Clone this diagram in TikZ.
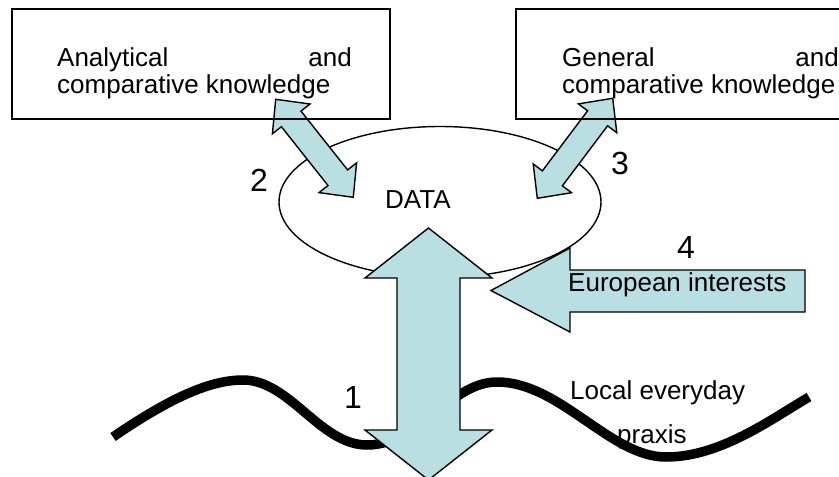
\documentclass[tikz,border=0pt]{standalone}
\usepackage{fontspec}
\setmainfont{Liberation Sans}
\definecolor{arrowfill}{RGB}{185,223,227}
\tikzset{
  lbl/.style={inner sep=0pt, anchor=base west, font=\fontsize{26}{30}\selectfont},
  lblr/.style={inner sep=0pt, anchor=base east, font=\fontsize{26}{30}\selectfont},
  num/.style={inner sep=0pt, anchor=base west, font=\fontsize{32}{36}\selectfont},
  blockarrow/.style={fill=arrowfill, draw=black, line width=1.4pt, line join=miter},
  knowbox/.style={draw=black, line width=1.8pt},
  wave/.style={draw=black, line width=9.5pt, line cap=butt}
}
\begin{document}
\begin{tikzpicture}[x=1pt,y=-1pt]
\useasboundingbox (0,0) rectangle (839,477);
\clip (0,0) rectangle (839,477);
\fill[white] (0,0) rectangle (839,477);

% arrow 4: European interests pressing on the data
\draw[blockarrow] (491,290.5) -- (570,248) -- (570,270) -- (805,270) -- (805,312)
  -- (570,312) -- (570,332) -- cycle;

% data ellipse
\draw[line width=1.4pt] (440,202) ellipse [x radius=161, y radius=75.5];
\node[lbl] (data) at (385,208) {DATA};

% arrow 2: analytical knowledge <-> data
\draw[blockarrow] (275.7,99.3) -- (310,104) -- (301,111.1) -- (347.6,169.9)
  -- (356.6,162.8) -- (353.3,197.3) -- (319,192.6) -- (328,185.5)
  -- (281.4,126.7) -- (272.4,133.8) -- cycle;
% arrow 3: general knowledge <-> data
\draw[blockarrow] (612.7,98.3) -- (616.8,132.7) -- (607.6,125.8) -- (562.4,185.8)
  -- (571.6,192.7) -- (537.3,198.3) -- (533.2,163.9) -- (542.4,170.8)
  -- (587.6,110.8) -- (578.4,103.9) -- cycle;

% knowledge boxes
\draw[knowbox] (12,9) rectangle (390,119);
\node[lbl] (ana1) at (57,66) {Analytical};
\node[lblr] (ana2) at (352,66) {and};
\node[lbl] (ana3) at (57,93.5) {comparative knowledge};

\draw[knowbox] (516,9) rectangle (900,119);
\node[lbl] (gen1) at (562,66) {General};
\node[lblr] (gen2) at (839,66) {and};
\node[lbl] (gen3) at (562,93.5) {comparative knowledge};

% local praxis label and the wavy line over it
\node[lbl] (local1) at (570,399) {Local everyday};
\node[lbl] (local2) at (617,443) {praxis};
\draw[wave] (113,437) .. controls (170,398) and (210,380) .. (243,380)
  .. controls (290,380) and (320,445) .. (367,445)
  .. controls (420,445) and (450,382) .. (497,382)
  .. controls (560,382) and (610,457) .. (666,457)
  .. controls (720,457) and (770,420) .. (809,397);

% arrow 1: data <-> local praxis
\draw[blockarrow] (428.5,228) -- (492,278) -- (460,278) -- (460,430) -- (492,430)
  -- (428.5,480) -- (365,430) -- (397,430) -- (397,278) -- (365,278) -- cycle;

\node[lbl] (euro) at (568,291.7) {European interests};

% step numbers
\node[num] (n1) at (344,408) {1};
\node[num] (n2) at (250,191) {2};
\node[num] (n3) at (611,174) {3};
\node[num] (n4) at (677,258) {4};
\end{tikzpicture}
\end{document}
